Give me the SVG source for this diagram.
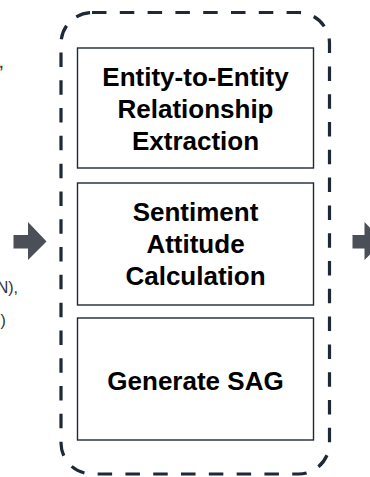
<svg xmlns="http://www.w3.org/2000/svg" width="370" height="477" viewBox="0 0 370 477">
  <style>
    .box { fill: #ffffff; stroke: #1e2836; stroke-width: 1.4; }
    .lbl { font-family: "Liberation Sans", Arial, sans-serif; font-weight: bold; font-size: 26px; fill: #000000; text-anchor: middle; }
    .side { font-family: "Liberation Sans", Arial, sans-serif; font-size: 16px; fill: #333333; }
    .arrow { fill: #4b4f57; }
    .group { fill: none; stroke: #1e2836; stroke-width: 3.2; stroke-dasharray: 14.5 13.3; }
  </style>
  <rect width="370" height="477" fill="#ffffff"/>

  <g id="left-text">
    <text class="side" x="-1.5" y="68" style="font-size:20px">,</text>
    <text class="side" x="-3.3" y="293">N),</text>
    <text class="side" x="0.5" y="326">)</text>
  </g>

  <g id="pipeline-group">
    <rect class="group" x="61" y="12.5" width="268.5" height="461.5" rx="31" ry="31"/>
  </g>

  <g id="node-extraction">
    <rect class="box" x="77.5" y="48" width="236" height="120"/>
    <text class="lbl" x="195.5" y="86">Entity-to-Entity</text>
    <text class="lbl" x="195.5" y="118">Relationship</text>
    <text class="lbl" x="195.5" y="150">Extraction</text>
  </g>

  <g id="node-sentiment">
    <rect class="box" x="77.5" y="183" width="236" height="122"/>
    <text class="lbl" x="195.5" y="221">Sentiment</text>
    <text class="lbl" x="195.5" y="253">Attitude</text>
    <text class="lbl" x="195.5" y="285">Calculation</text>
  </g>

  <g id="node-generate">
    <rect class="box" x="77.5" y="318" width="236" height="122"/>
    <text class="lbl" x="195.5" y="390">Generate SAG</text>
  </g>

  <g id="connectors">
    <polygon class="arrow" points="13.5,235 28,235 28,222 46.5,241.5 28,260 28,248.5 13.5,248.5"/>
    <polygon class="arrow" points="352.5,235 364.5,235 364.5,222 383,241.5 364.5,260 364.5,248.5 352.5,248.5"/>
  </g>
</svg>
